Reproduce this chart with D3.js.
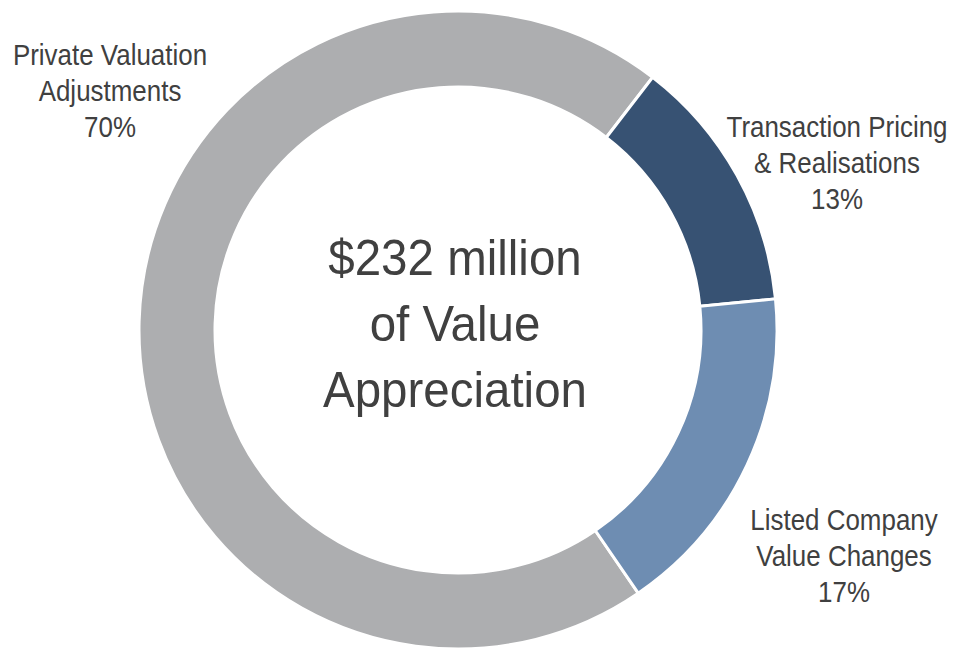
<!DOCTYPE html>
<html>
<head>
<meta charset="utf-8">
<script src="https://cdn.jsdelivr.net/npm/d3@7"></script>
<style>
  html, body { margin: 0; padding: 0; background: #ffffff; }
  svg { display: block; }
</style>
</head>
<body>
<svg id="chart" width="959" height="649"></svg>
<script>
// ---- data ----
const categories = ["Private Valuation Adjustments", "Transaction Pricing & Realisations", "Listed Company Value Changes"];
const values = [70, 13, 17];
const labelLines = [
  ["Private Valuation", "Adjustments", "70%"],
  ["Transaction Pricing", "& Realisations", "13%"],
  ["Listed Company", "Value Changes", "17%"]
];
const colors = ["#adaeb0", "#375273", "#6e8db2"];
const centerLines = ["$232 million", "of Value", "Appreciation"];

// ---- layout ----
const svg = d3.select("#chart");
const cx = 458, cy = 330;
const outerR = 319, innerR = 243;
const start = 145.6 * Math.PI / 180;

const pie = d3.pie().sort(null).value(d => d.value)
  .startAngle(start).endAngle(start + 2 * Math.PI);
const arc = d3.arc().innerRadius(innerR).outerRadius(outerR);

const data = categories.map((c, i) => ({ name: c, value: values[i], color: colors[i], lines: labelLines[i] }));

const g = svg.append("g").attr("transform", `translate(${cx},${cy})`);
g.selectAll("path.slice")
  .data(pie(data))
  .join("path")
  .attr("class", "slice")
  .attr("d", arc)
  .attr("fill", d => d.data.color)
  .attr("stroke", "#ffffff")
  .attr("stroke-width", 3);

// labels (x centre, first baseline)
const labelPos = [
  { x: 110, y: 65 },
  { x: 837, y: 137 },
  { x: 844, y: 530 }
];
const lineH = 36;
const font = "'Liberation Sans', Arial, sans-serif";

data.forEach((d, i) => {
  const lg = svg.append("g")
    .attr("transform", `translate(${labelPos[i].x},0) scale(0.865,1)`);
  const t = lg.append("text")
    .attr("text-anchor", "middle")
    .attr("font-family", font)
    .attr("font-size", 30)
    .attr("fill", "#404040");
  d.lines.forEach((ln, j) => {
    t.append("tspan").attr("x", 0).attr("y", labelPos[i].y + j * lineH).text(ln);
  });
});

// center text
const cg = svg.append("g").attr("transform", `translate(455,0) scale(0.95,1)`);
const ct = cg.append("text")
  .attr("text-anchor", "middle")
  .attr("font-family", font)
  .attr("font-size", 50)
  .attr("fill", "#404040");
centerLines.forEach((ln, j) => {
  ct.append("tspan").attr("x", 0).attr("y", 275 + j * 66).text(ln);
});
</script>
</body>
</html>
